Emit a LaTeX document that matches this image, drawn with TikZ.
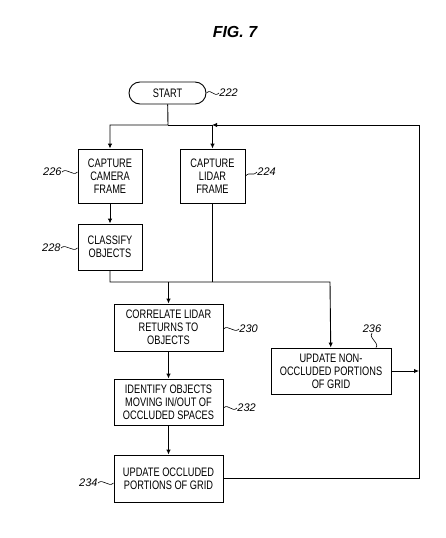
\documentclass[tikz,border=0pt]{standalone}
\usepackage{fontspec}
\setmainfont{Liberation Sans}
\newfontfamily\boxfont{Liberation Sans}[FakeStretch=0.75]
\usetikzlibrary{arrows.meta}

\begin{document}
\begin{tikzpicture}[x=1pt,y=-1pt,line width=0.9pt,
        >={Latex[length=5pt,width=4.5pt]},
        box/.style={draw,align=center,inner sep=0pt,font=\boxfont\fontsize{12.3}{13.2}\selectfont},
        num/.style={inner sep=0pt,font=\itshape\fontsize{11}{12}\selectfont},
        wig/.style={line width=0.6pt}]
        \useasboundingbox (0,0) rectangle (445,538);
        \node[font=\bfseries\itshape\fontsize{16}{18}\selectfont] (fig) at (235,32) {FIG. 7};

        \node[box,rounded corners=11pt,minimum width=77pt,minimum height=22pt] (start) at (167.5,93) {START};
        \node[box,minimum width=64pt,minimum height=54pt] (camera) at (110,176) {CAPTURE\\CAMERA\\FRAME};
        \node[box,minimum width=65pt,minimum height=54pt] (lidar) at (212.5,176) {CAPTURE\\LIDAR\\FRAME};
        \node[box,minimum width=64pt,minimum height=46pt] (classify) at (110,247) {CLASSIFY\\OBJECTS};
        \node[box,minimum width=109pt,minimum height=47pt] (correlate) at (168.5,327.5) {CORRELATE LIDAR\\RETURNS TO\\OBJECTS};
        \node[box,minimum width=109pt,minimum height=46pt] (identify) at (168.5,402) {IDENTIFY OBJECTS\\MOVING IN/OUT OF\\OCCLUDED SPACES};
        \node[box,minimum width=109pt,minimum height=47pt] (occl) at (168.5,478.5) {UPDATE OCCLUDED\\PORTIONS OF GRID};
        \node[box,minimum width=120pt,minimum height=46pt] (nonoccl) at (331,371) {UPDATE NON-\\OCCLUDED PORTIONS\\OF GRID};

        \node[num,anchor=west] (n222) at (219,93) {222};
        \node[num,anchor=west] (n224) at (257,172) {224};
        \node[num,anchor=east] (n226) at (62,172) {226};
        \node[num,anchor=east] (n228) at (61,248) {228};
        \node[num,anchor=west] (n230) at (239,329) {230};
        \node[num,anchor=west] (n232) at (237,408) {232};
        \node[num,anchor=east] (n234) at (98,483) {234};
        \node[num] (n236) at (372,329) {236};

        \coordinate (j1) at (168,125);
        \coordinate (j2) at (330,282);
        \coordinate (rt) at (419,125);

        \draw[->] (start) -- (j1) -| (camera);
        \draw[->] (j1) -| (lidar);
        \draw[->] (camera) -- (classify);
        \draw[->] (classify) |- (j2) -- (nonoccl);
        \draw (lidar) -- (lidar|-j2);
        \draw[->] (correlate|-j2) -- (correlate);
        \draw[->] (correlate) -- (identify);
        \draw[->] (identify) -- (occl);
        \draw[->] (occl) -| (rt) -- ([xshift=-0.4pt]lidar|-rt);
        \draw[->] (nonoccl) -- (nonoccl-|rt);

        \draw[wig] (start.east) .. controls +(5,-5) and +(-5,5) .. (n222.west);
        \draw[wig] (lidar.east) .. controls +(5,-5) and +(-5,5) .. (n224.west);
        \draw[wig] (n226.east) .. controls +(5,-5) and +(-5,5) .. (camera.west|-n226);
        \draw[wig] (n228.east) .. controls +(5,-5) and +(-5,5) .. (classify.west|-n228);
        \draw[wig] (correlate.east|-n230) .. controls +(5,-5) and +(-5,5) .. (n230.west);
        \draw[wig] (identify.east|-n232) .. controls +(5,-5) and +(-5,5) .. (n232.west);
        \draw[wig] (n234.east) .. controls +(5,-5) and +(-5,5) .. (occl.west|-n234);
        \draw[wig] (n236.south) .. controls +(-4,4) and +(4,-4) .. ([xshift=4pt]n236.south|-nonoccl.north);
    \end{tikzpicture}
\end{document}
